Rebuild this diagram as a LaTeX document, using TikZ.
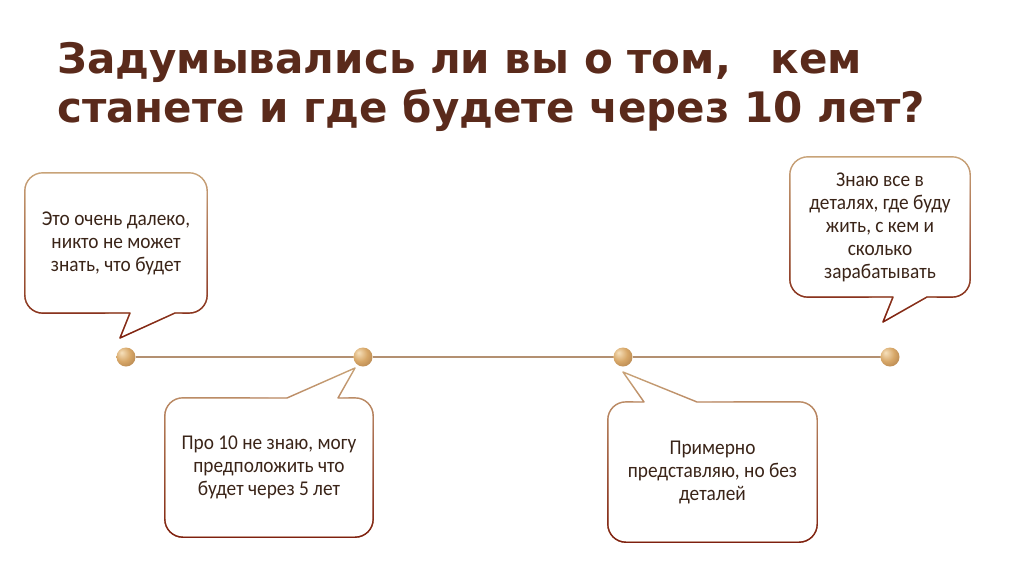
\documentclass[tikz,border=0pt]{standalone}
\usepackage{fontspec}
\setmainfont{Carlito}[FakeStretch=0.92]
\newfontfamily\headfont{DejaVu Sans}
\usetikzlibrary{fadings}
\definecolor{slidebrown}{HTML}{5A2A1B}
\definecolor{slideink}{HTML}{3A2418}
\definecolor{slidetan}{HTML}{C9A479}
\definecolor{slidered}{HTML}{7E1E10}
\definecolor{slideline}{HTML}{B39071}
\definecolor{beadhi}{HTML}{F6E0BC}
\definecolor{beadmid}{HTML}{D7A768}
\definecolor{beadlo}{HTML}{9A6A3A}
\pgfdeclareradialshading{bead}{\pgfpoint{-12bp}{12bp}}{color(0bp)=(beadhi); color(20bp)=(beadmid); color(50bp)=(beadlo); color(70bp)=(beadlo)}
\tikzfading[name=rimfade, top color=transparent!100, bottom color=transparent!0]
\tikzset{
  head/.style={font=\headfont\bfseries\fontsize{42}{49}\selectfont, text=slidebrown, align=left, inner sep=0pt},
  note/.style={align=center, font=\fontsize{21}{23}\selectfont, text=slideink, inner sep=0pt},
  bead/.style={circle, minimum size=19pt, inner sep=0pt, shade, shading=bead},
  rim/.style={draw=slidetan, line width=1.4pt, line cap=round, line join=round},
  rimdark/.style={draw=slidered, line width=1.4pt, line cap=round, line join=round, path fading=rimfade},
  track/.style={draw=slideline, line width=1.5pt},
}
\begin{document}
\begin{tikzpicture}[x=1pt, y=-1pt]
  \useasboundingbox (0,0) rectangle (1024,574);
  \node[head, anchor=north west] (title) at (57,42.5) {Задумывались ли вы о том,\hspace{0.95em}кем\\станете и где будете через 10 лет?};
  % timeline
  \foreach \x [count=\i] in {126,363,623,890}
    \node[bead] (t\i) at (\x,357) {};
  \draw[track] (t1) -- (t2) -- (t3) -- (t4);
  % bubbles
  \node[note, minimum width=182, minimum height=140] (far) at (116,243) {Это очень далеко,\\никто не может\\знать, что будет};
  \node[note, minimum width=180, minimum height=140] (sure) at (880,227) {Знаю все в\\деталях, где буду\\жить, с кем и\\сколько\\зарабатывать};
  \node[note, minimum width=208, minimum height=139] (five) at (269,467.5) {Про 10 не знаю, могу\\предположить что\\будет через 5 лет};
  \node[note, minimum width=209, minimum height=140] (rough) at (712.5,472) {Примерно\\представляю, но без\\деталей};
  \coordinate (tip1) at (120,338);
  \coordinate (tip4) at (883,322);
  \coordinate (tip2) at (355,368);
  \coordinate (tip3) at (623,372);
  \foreach \s in {rim,rimdark} {
    \draw[\s] (175,313) [rounded corners=18] -- (far.south east) -- (far.north east) -- (far.north west) -- (far.south west) -- (130,313)
      [sharp corners] (130,313) -- (tip1) -- (175,313);
    \draw[\s] (927,297) [rounded corners=18] -- (sure.south east) -- (sure.north east) -- (sure.north west) -- (sure.south west) -- (893,297)
      [sharp corners] (893,297) -- (tip4) -- (927,297);
    \draw[\s] (287,398) [rounded corners=18] -- (five.north west) -- (five.south west) -- (five.south east) -- (five.north east) -- (338,398)
      [sharp corners] (338,398) -- (tip2) -- (287,398);
    \draw[\s] (697,402) [rounded corners=18] -- (rough.north east) -- (rough.south east) -- (rough.south west) -- (rough.north west) -- (644,402)
      [sharp corners] (644,402) -- (tip3) -- (697,402);
  }
\end{tikzpicture}
\end{document}
